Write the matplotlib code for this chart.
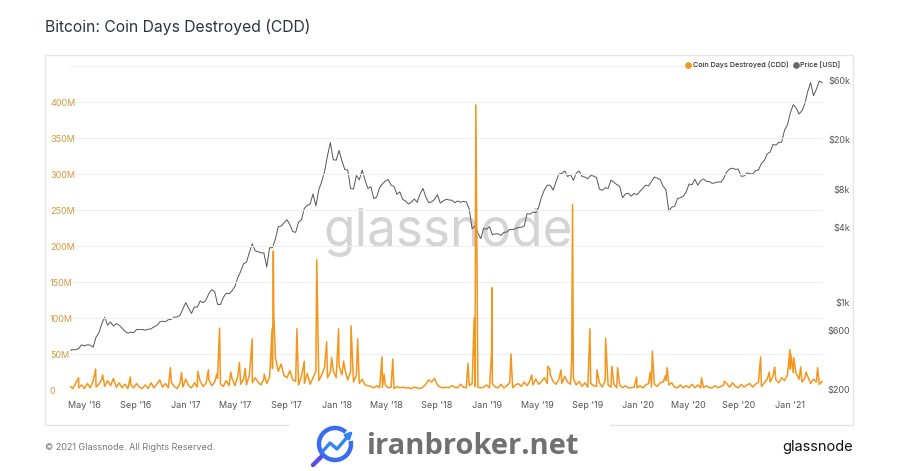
import pandas as pd
import matplotlib
matplotlib.use("Agg")
import matplotlib.pyplot as plt
import matplotlib.dates as mdates
from matplotlib.lines import Line2D
from matplotlib.patches import Rectangle, Arc, FancyArrowPatch
from matplotlib.ticker import FixedLocator, NullLocator, FuncFormatter

plt.rcParams["font.family"] = ["Inter", "DejaVu Sans"]

# ---------------------------------------------------------------------
# data
# weekly samples starting Sunday 27 Mar 2016, 13 weeks per row (~1 quarter)
# ---------------------------------------------------------------------
start_date = "2016-03-27"

# coin days destroyed, millions (background level, weekly)
cdd_weekly = [
    5, 2, 10, 3, 7, 2, 9, 3, 13, 4, 8, 15, 5,
    13, 6, 16, 4, 10, 3, 8, 2, 7, 3, 9, 4, 2,
    7, 2, 10, 3, 8, 14, 4, 9, 3, 11, 5, 2, 9,
    4, 15, 6, 3, 10, 4, 12, 5, 9, 14, 6, 11, 16,
    8, 5, 13, 6, 16, 6, 19, 8, 15, 7, 21, 10, 17,
    11, 7, 15, 9, 18, 30, 45, 26, 36, 20, 17, 27, 14,
    12, 7, 19, 9, 23, 8, 17, 26, 13, 21, 31, 17, 25,
    27, 17, 33, 21, 29, 14, 25, 11, 21, 9, 15, 7, 6,
    5, 3, 6, 3, 4, 7, 3, 4, 2, 5, 3, 4, 3,
    3, 2, 4, 3, 2, 4, 8, 14, 11, 16, 7, 4, 3,
    4, 3, 6, 4, 3, 8, 4, 3, 6, 9, 5, 4, 3,
    4, 7, 3, 9, 4, 3, 8, 3, 6, 10, 3, 7, 9,
    5, 11, 6, 13, 7, 15, 8, 12, 17, 9, 21, 12, 8,
    15, 9, 19, 11, 8, 16, 7, 12, 5, 10, 4, 9, 6,
    5, 10, 4, 13, 7, 4, 8, 3, 7, 3, 6, 3, 3,
    4, 3, 6, 3, 7, 9, 4, 8, 5, 10, 11, 13, 7,
    10, 4, 3, 7, 3, 6, 3, 8, 3, 7, 3, 3, 6,
    3, 3, 6, 3, 5, 7, 9, 4, 10, 5, 3, 8, 4,
    7, 9, 4, 8, 11, 5, 10, 15, 11, 19, 14, 10, 17,
    13, 21, 29, 24, 23, 15, 11, 16, 19, 9, 15, 11, 8,
    12,
]

# single-day spikes of CDD, millions
spike_dates = [
    "2016-04-17", "2016-05-28", "2016-06-14", "2016-08-20", "2016-11-25",
    "2016-12-22", "2017-01-30", "2017-02-25", "2017-03-17", "2017-03-24",
    "2017-04-20", "2017-05-11", "2017-05-25", "2017-06-11", "2017-07-10",
    "2017-07-29", "2017-08-01", "2017-08-02", "2017-08-05", "2017-08-20",
    "2017-09-27", "2017-10-15", "2017-11-14", "2017-12-08", "2017-12-20",
    "2018-01-06", "2018-01-18", "2018-02-05", "2018-02-21", "2018-04-21",
    "2018-04-26", "2018-05-17", "2018-11-15", "2018-11-30", "2018-12-04",
    "2019-01-11", "2019-01-12", "2019-02-27", "2019-04-18", "2019-05-27",
    "2019-06-01", "2019-06-28", "2019-07-24", "2019-07-26", "2019-09-06",
    "2019-09-23", "2019-10-14", "2019-10-29", "2019-11-12", "2019-12-28",
    "2020-01-30", "2020-02-04", "2020-03-07", "2020-03-11", "2020-06-02",
    "2020-07-27", "2020-10-23", "2020-11-13", "2020-11-26", "2021-01-02",
    "2021-01-04", "2021-01-11", "2021-01-28", "2021-02-10", "2021-03-10",
]
spike_values = [
    17, 29, 21, 18, 31,
    24, 26, 28, 22, 86,
    25, 38, 30, 71, 22,
    85, 193, 107, 60, 35,
    85, 40, 181, 67, 45,
    85, 40, 89, 71, 46,
    22, 43, 37, 100, 396,
    51, 142, 50, 21, 33,
    29, 28, 41, 258, 85,
    28, 72, 33, 31, 18,
    25, 54, 20, 31, 17,
    12, 46, 25, 32, 56,
    50, 45, 32, 25, 31,
]

# BTC price in USD, weekly (same dates as cdd_weekly)
price_weekly = [
    417, 420, 420, 430, 460, 450, 460, 457, 440, 530, 575, 680, 765,
    660, 700, 650, 680, 660, 625, 590, 570, 580, 575, 610, 608, 610,
    602, 612, 617, 640, 655, 700, 710, 705, 730, 735, 765, 770, 790,
    890, 1000, 905, 820, 925, 920, 1030, 1000, 1050, 1180, 1270, 1230, 970,
    965, 1100, 1190, 1180, 1240, 1350, 1580, 1780, 2050, 2100, 2520, 2960, 2600,
    2560, 2500, 2500, 1930, 2750, 2750, 3230, 4050, 4100, 4350, 4600, 4200, 3700,
    3650, 4400, 4600, 5680, 6000, 6150, 7400, 5950, 8000, 9300, 11200, 15000, 19100,
    13900, 13800, 16500, 13600, 11600, 11500, 8200, 8100, 10400, 9600, 11500, 9500, 8200,
    8450, 6800, 7000, 8300, 8900, 9400, 9650, 8700, 8500, 7350, 7700, 6700, 6500,
    6150, 6380, 6750, 6350, 7400, 8200, 7000, 6300, 6400, 6700, 7300, 6250, 6500,
    6700, 6630, 6600, 6300, 6500, 6350, 6450, 6400, 5600, 3900, 4100, 3600, 3250,
    3950, 3850, 4050, 3500, 3550, 3550, 3450, 3650, 3670, 3850, 3850, 3900, 4000,
    4000, 4100, 5150, 5100, 5300, 5250, 5800, 7000, 8000, 8700, 8700, 7950, 9300,
    10700, 10800, 11300, 10200, 10600, 9500, 10900, 11300, 10200, 10100, 9800, 10400, 10300,
    10000, 8100, 7900, 8300, 8200, 9550, 9200, 8800, 8500, 6900, 7400, 7500, 7100,
    7500, 7300, 7750, 8200, 8700, 8600, 9350, 10100, 9900, 9650, 8550, 8000, 5400,
    5800, 5900, 6800, 6900, 7100, 7700, 8900, 8750, 9700, 8700, 9450, 9750, 9350,
    9300, 9000, 9100, 9250, 9200, 9900, 11100, 11700, 11900, 11650, 11700, 10250, 10300,
    10900, 10750, 10700, 11400, 11500, 13000, 13700, 15500, 16000, 18400, 18200, 19150, 19200,
    24000, 26500, 33000, 38300, 36000, 32300, 34300, 39000, 48700, 57500, 45200, 51000, 59200,
    57600,
]

price_ticks = [200, 600, 1000, 4000, 8000, 20000, 60000]
price_tick_labels = ["$200", "$600", "$1k", "$4k", "$8k", "$20k", "$60k"]

# ---------------------------------------------------------------------
weeks = pd.date_range(start_date, periods=len(cdd_weekly), freq="7D")
cdd = pd.concat([
    pd.Series(cdd_weekly, index=weeks, dtype=float),
    pd.Series(spike_values, index=pd.to_datetime(spike_dates), dtype=float),
]).sort_index() * 1e6
price = pd.Series(price_weekly, index=weeks, dtype=float)

ORANGE = "#f5961c"
GREY_LINE = "#555555"

W, H = 900, 471
fig = plt.figure(figsize=(W / 100, H / 100), dpi=100)


def fx(px):
    return px / W


def fy(py):
    return 1 - py / H


# white chart panel with a light border
fig.add_artist(Rectangle((fx(45), fy(425)), fx(853) - fx(45), fy(55) - fy(425),
                         transform=fig.transFigure, facecolor="white",
                         edgecolor="#e4e4e4", lw=1, zorder=-5))

fig.text(fx(45), fy(27), "Bitcoin: Coin Days Destroyed (CDD)", fontsize=11.3,
         color="#2d3440", va="center", ha="left")

ax = fig.add_axes([fx(70), fy(390), fx(823) - fx(70), fy(66) - fy(390)])
ax_p = ax.twinx()
ax.set_zorder(ax_p.get_zorder() + 1)
ax.patch.set_visible(False)

# price (log, right)
ax_p.plot(price.index, price.values, color=GREY_LINE, lw=0.7, zorder=2)
ax_p.set_yscale("log")
ax_p.set_ylim(200, 10 ** (2.301 + 324 / 125))
ax_p.yaxis.set_major_locator(FixedLocator(price_ticks))
ax_p.yaxis.set_minor_locator(NullLocator())
ax_p.set_yticklabels(price_tick_labels)
ax_p.tick_params(axis="y", length=0, pad=19.4, labelsize=6.5, colors="#555555")
for lab in ax_p.get_yticklabels():
    lab.set_ha("right")
ax_p.text(0.502, 0.485, "glassnode", transform=ax_p.transAxes, fontsize=37,
          color="#d4d4d4", ha="center", va="center", zorder=1)

# CDD (linear, left)
ax.plot(cdd.index, cdd.values, color=ORANGE, lw=1.1, zorder=3)
ax.set_ylim(0, 450e6)
ax.set_yticks([i * 50e6 for i in range(10)])
ax.yaxis.set_major_formatter(FuncFormatter(
    lambda v, p: "" if v >= 449e6 else ("0" if v == 0 else f"{int(v / 1e6)}M")))
ax.tick_params(axis="y", length=0, pad=14.4, labelsize=6.5, colors="#d09a3e")
for lab in ax.get_yticklabels():
    lab.set_ha("left")
ax.grid(axis="y", color="#efefef", lw=0.8)
ax.set_axisbelow(True)

ax.set_xlim(pd.Timestamp("2016-03-27"), pd.Timestamp("2021-03-23"))
tick_dates = pd.date_range("2016-05-01", "2021-01-01", freq="4MS")
ax.set_xticks(tick_dates)
ax.xaxis.set_major_formatter(mdates.DateFormatter("%b '%y"))
ax.tick_params(axis="x", length=0, pad=8, labelsize=6.5, colors="#555555")

for a in (ax, ax_p):
    for s in a.spines.values():
        s.set_visible(False)
ax_p.tick_params(axis="x", length=0)

# legend (top right)
fig.add_artist(Line2D([fx(688)], [fy(65)], marker="o", ms=3.8, color=ORANGE,
                      transform=fig.transFigure))
fig.text(fx(693), fy(65), "Coin Days Destroyed (CDD)", fontsize=5.2,
         color="#333333", va="center", ha="left", fontweight="medium")
fig.add_artist(Line2D([fx(796)], [fy(65)], marker="o", ms=3.8, color="#666666",
                      transform=fig.transFigure))
fig.text(fx(800), fy(65), "Price [USD]", fontsize=5.2, color="#333333",
         va="center", ha="left", fontweight="medium")

# footer
fig.text(fx(45), fy(447), "\u00a9 2021 Glassnode. All Rights Reserved.",
         fontsize=6.5, color="#777777", va="center", ha="left")
fig.text(fx(853), fy(447), "glassnode", fontsize=10.5, color="#111111",
         va="center", ha="right")

# iranbroker watermark over the bottom of the panel
fig.add_artist(Rectangle((fx(290), 0), fx(610) - fx(290), fy(419),
                         transform=fig.transFigure, facecolor="white",
                         edgecolor="none", zorder=4))
fig.add_artist(Arc((fx(335), fy(444)), 32 / W, 32 / H, theta1=65, theta2=380,
                   transform=fig.transFigure, color="#3a6cf0", lw=3.2, zorder=5))
fig.add_artist(Line2D([fx(321), fx(313)], [fy(457), fy(465)], color="#5a4fe0",
                      lw=3.2, solid_capstyle="round", transform=fig.transFigure,
                      zorder=5))
fig.add_artist(Line2D([fx(323), fx(330), fx(337), fx(349)],
                      [fy(451), fy(443), fy(449), fy(435)], color="#2f86f0",
                      lw=2.4, solid_joinstyle="round", transform=fig.transFigure,
                      zorder=5))
fig.add_artist(FancyArrowPatch((fx(345), fy(439)), (fx(355), fy(429)),
                               arrowstyle="-|>", mutation_scale=10,
                               color="#2f86f0", lw=2,
                               transform=fig.transFigure, zorder=5))
fig.text(fx(367), fy(446), "iranbroker.net", fontsize=21, fontweight="bold",
         color="#707070", va="center", ha="left", zorder=6,
         family=["Open Sans", "DejaVu Sans"])

fig.savefig("out.png", dpi=100)
